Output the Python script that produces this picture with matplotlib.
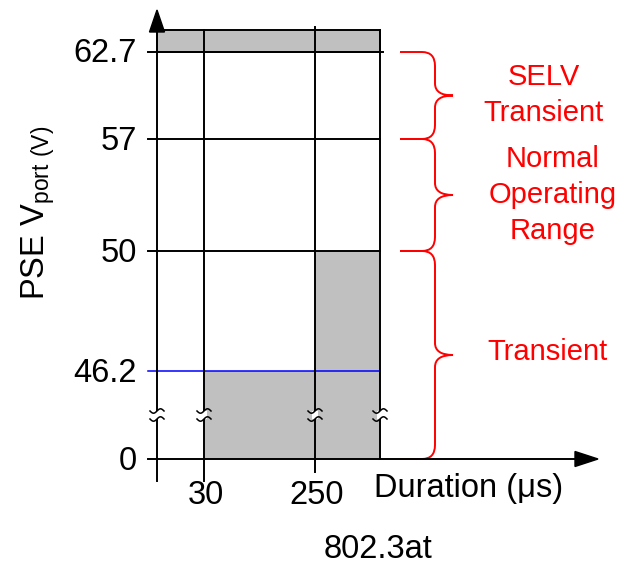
import numpy as np
import matplotlib
matplotlib.use("Agg")
import matplotlib.pyplot as plt
from matplotlib.patches import Rectangle, PathPatch, FancyArrow
from matplotlib.path import Path

plt.rcParams['font.family'] = ['Liberation Sans', 'DejaVu Sans']
plt.rcParams['mathtext.fontset'] = 'custom'
plt.rcParams['mathtext.rm'] = 'Liberation Sans'

# ---------------- data ----------------
levels = [0, 46.2, 50, 57, 62.7]
level_labels = ['0', '46.2', '50', '57', '62.7']
durations = [30, 250]
duration_labels = ['30', '250']
# shaded pulses: (start time, low level, high level)
pulse_start = [30, 250]
pulse_low = [0, 46.2]
pulse_high = [46.2, 50]
selv_level = 62.7
blue_level = 46.2
black_levels = [50, 57, 62.7]
region_bounds = [(62.7, 57), (57, 50), (50, 0)]
region_labels = ['SELV\nTransient', 'Normal\nOperating\nRange', 'Transient']
x_title = 'Duration (\u03bcs)'
y_title = r'PSE V$_{\mathregular{port\ (V)}}$'
caption = '802.3at'

# ---------------- schematic layout (value -> canvas position) ----------------
Y_POS = {0: 459, 46.2: 371, 50: 251, 57: 139, 62.7: 52}
Y_TOPBAND = 30
X_POS = {0: 157, 30: 204, 250: 315, 'end': 380}
def Y(v): return Y_POS[v]
def X(t): return X_POS[t]

fig = plt.figure(figsize=(6.27, 5.64), dpi=100)
ax = fig.add_axes([0, 0, 1, 1])
ax.set_xlim(0, 627)
ax.set_ylim(564, 0)
ax.axis('off')

gray = '#c0c0c0'
lw = 1.4
xend = X('end')

# top SELV band
ax.add_patch(Rectangle((X(0), Y_TOPBAND), xend - X(0), Y(selv_level) - Y_TOPBAND,
                       facecolor=gray, edgecolor='black', lw=lw, zorder=2))
# pulses
for ts, lo, hi in zip(pulse_start, pulse_low, pulse_high):
    ax.add_patch(Rectangle((X(ts), Y(hi)), xend - X(ts), Y(lo) - Y(hi),
                           facecolor=gray, edgecolor='none', zorder=1))

# horizontal level lines
for lv in black_levels:
    ax.plot([148, xend + (3 if lv == selv_level else 0)], [Y(lv), Y(lv)], color='black', lw=lw, zorder=3)
ax.plot([148, xend], [Y(blue_level), Y(blue_level)], color='#0000ff', lw=1.1, zorder=3)

# vertical lines
ax.plot([X(30), X(30)], [Y_TOPBAND, 481], color='black', lw=lw, zorder=3)
ax.plot([X(250), X(250)], [27, 472], color='black', lw=lw, zorder=3)
ax.plot([xend, xend], [Y_TOPBAND, Y(0)], color='black', lw=lw, zorder=3)

# axes with arrows
ax.plot([X(0), X(0)], [481, 30], color='black', lw=lw, zorder=4)
ax.add_patch(FancyArrow(X(0), 32, 0, -22, width=0, head_width=15, head_length=22,
                        length_includes_head=True, color='black', zorder=5))
ax.plot([148, 578], [Y(0), Y(0)], color='black', lw=lw, zorder=4)
ax.add_patch(FancyArrow(575, Y(0), 23, 0, width=0, head_width=15, head_length=23,
                        length_includes_head=True, color='black', zorder=5))

# break marks
yb = 415
for xb in [X(0), X(30), X(250), xend]:
    ax.add_patch(Rectangle((xb - 3, yb - 4), 6, 8, facecolor='white', edgecolor='none', zorder=6))
    t = np.linspace(-1, 1, 30)
    for dy in (-4, 4):
        ax.plot(xb + 7 * t, yb + dy - 2.2 * np.sin(np.pi * t), color='black', lw=1.1, zorder=7)

# tick labels
fs = 23.5
for lv, lab in zip(levels, level_labels):
    ax.text(137, Y(lv) + 2, lab, ha='right', va='center', fontsize=fs)
for d, lab in zip(durations, duration_labels):
    ax.text(X(d) + 2, 495, lab, ha='center', va='center', fontsize=fs)

ax.text(374, 488, x_title, ha='left', va='center', fontsize=23.5)
ax.text(378, 550, caption, ha='center', va='center', fontsize=23.5)
ax.text(38, 300, y_title, rotation=90, ha='center', va='bottom', fontsize=23.5)

# braces
def brace(ya, yb_):
    x0, xv, xt = 400, 435, 453
    ym = (ya + yb_) / 2
    verts = [(x0, ya), (422, ya), (xv, ya), (xv, ya + 14),
             (xv, ym - 12), (xv, ym), (xt, ym),
             (xv, ym), (xv, ym + 12),
             (xv, yb_ - 14), (xv, yb_), (422, yb_), (x0, yb_)]
    codes = [Path.MOVETO, Path.LINETO, Path.CURVE3, Path.CURVE3,
             Path.LINETO, Path.CURVE3, Path.CURVE3,
             Path.CURVE3, Path.CURVE3,
             Path.LINETO, Path.CURVE3, Path.CURVE3, Path.LINETO]
    ax.add_patch(PathPatch(Path(verts, codes), facecolor='none', edgecolor='#ff0000', lw=1.4, zorder=3))

for (hi, lo), lab in zip(region_bounds, region_labels):
    brace(Y(hi), Y(lo))

red_pos = [(544, 95), (553, 195), (547, 352)]
for (xp, yp), lab in zip(red_pos, region_labels):
    ax.text(xp, yp, lab, ha='center', va='center', fontsize=21, color='#ff0000', linespacing=1.35)

fig.savefig('out.png', dpi=100)
